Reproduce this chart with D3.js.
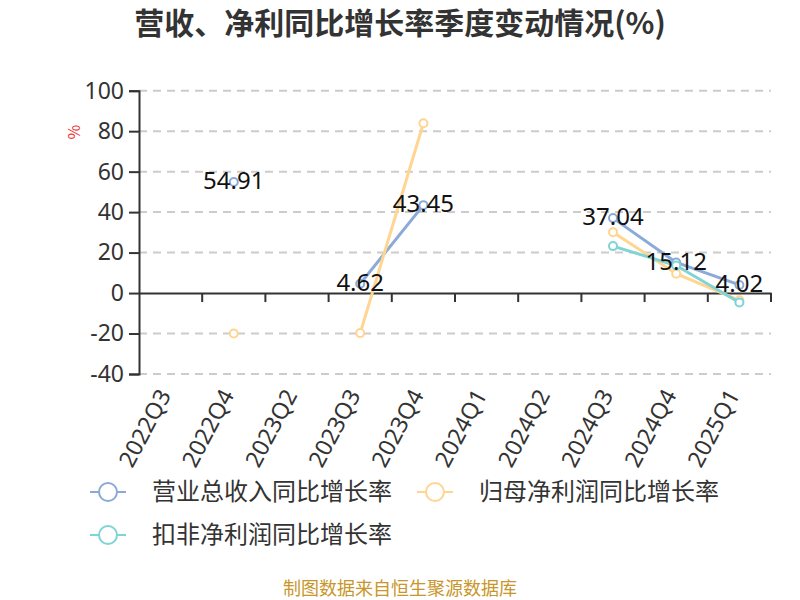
<!DOCTYPE html>
<html><head><meta charset="utf-8">
<script src="https://cdn.jsdelivr.net/npm/d3@7"></script>
<style>body{margin:0;background:#fff;} svg{display:block;font-family:"Noto Sans CJK SC","Noto Sans",sans-serif;}</style>
</head><body>
<svg id="c" width="800" height="600"></svg>
<script>
const categories = ["2022Q3","2022Q4","2023Q2","2023Q3","2023Q4","2024Q1","2024Q2","2024Q3","2024Q4","2025Q1"];
const revenue = [null,54.91,null,4.62,43.45,null,null,37.04,15.12,4.02];
const netProfit = [null,-20,null,-19.8,83.9,null,null,30.1,9.6,-3.6];
const deductedProfit = [null,null,null,null,null,null,null,23.2,13.6,-4.7];
const yTicks = [-40,-20,0,20,40,60,80,100];
const seriesNames = ["营业总收入同比增长率","归母净利润同比增长率","扣非净利润同比增长率"];
const colors = ["#8caad8","#ffd591","#7fd4d6"];

const svg = d3.select("#c");
const pLeft = 139, pRight = 771, pTop = 90.7, pBottom = 374;
const x = d3.scaleBand().domain(categories).range([pLeft,pRight]);
const y = d3.scaleLinear().domain([-40,100]).range([pBottom,pTop]);

svg.append("text").attr("x",400).attr("y",34).attr("text-anchor","middle")
  .attr("font-size",30).attr("font-weight","bold").attr("fill","#333").text("营收、净利同比增长率季度变动情况(%)");

// grid
svg.append("g").selectAll("line").data(yTicks.filter(d=>d!==0)).join("line")
  .attr("x1",pLeft).attr("x2",pRight).attr("y1",d=>y(d)).attr("y2",d=>y(d))
  .attr("stroke","#ccc").attr("stroke-width",2).attr("stroke-dasharray","8,6");

// y axis
const ya = svg.append("g").attr("transform",`translate(${pLeft},0)`)
  .call(d3.axisLeft(y).tickValues(yTicks).tickSize(10).tickPadding(5).tickFormat(d=>String(d)));
ya.select(".domain").attr("stroke","#333").attr("stroke-width",2);
ya.selectAll(".tick line").attr("stroke","#333").attr("stroke-width",2);
ya.selectAll("text").attr("font-size",23).attr("fill","#333").attr("font-family","'Noto Sans',sans-serif");

svg.append("text").attr("transform","translate(80,132) rotate(-90)").attr("text-anchor","middle")
  .attr("font-size",16).attr("fill","#e33").text("%");

// x axis at zero
const xa = svg.append("g").attr("transform",`translate(0,${y(0)})`)
  .call(d3.axisBottom(x).tickSize(0).tickFormat(""));
xa.select(".domain").attr("stroke","#333").attr("stroke-width",2);
svg.append("g").selectAll("line").data(categories).join("line")
  .attr("x1",(d,i)=>pLeft+x.step()*(i+1)).attr("x2",(d,i)=>pLeft+x.step()*(i+1))
  .attr("y1",y(0)).attr("y2",y(0)+9).attr("stroke","#333").attr("stroke-width",2);

// x labels
svg.append("g").selectAll("text").data(categories).join("text")
  .attr("transform",d=>`translate(${x(d)+x.bandwidth()/2+1},${pBottom+21}) rotate(-62)`)
  .attr("text-anchor","end").attr("font-size",23).attr("fill","#333")
  .attr("font-family","'Noto Sans',sans-serif").text(d=>d);

const allSeries = [revenue,netProfit,deductedProfit];
const line = d3.line().defined(d=>d.v!==null).x(d=>x(d.c)+x.bandwidth()/2).y(d=>y(d.v));
allSeries.forEach((s,i)=>{
  const data = categories.map((c,j)=>({c,v:s[j]}));
  svg.append("path").datum(data).attr("d",line).attr("fill","none")
    .attr("stroke",colors[i]).attr("stroke-width",3);
  svg.append("g").selectAll("circle").data(data.filter(d=>d.v!==null)).join("circle")
    .attr("cx",d=>x(d.c)+x.bandwidth()/2).attr("cy",d=>y(d.v)).attr("r",4)
    .attr("fill","#fff").attr("stroke",colors[i]).attr("stroke-width",2);
});
// labels on revenue
svg.append("g").selectAll("text").data(categories.map((c,j)=>({c,v:revenue[j]})).filter(d=>d.v!==null)).join("text")
  .attr("x",d=>x(d.c)+x.bandwidth()/2).attr("y",d=>y(d.v)).attr("dy","0.3em")
  .attr("text-anchor","middle").attr("font-size",24).attr("fill","#111")
  .attr("font-family","'Noto Sans',sans-serif").text(d=>d.v.toFixed(2));

// legend
const legPos = [[90,492],[417,492],[90,535]];
seriesNames.forEach((n,i)=>{
  const [lx,ly] = legPos[i];
  const g = svg.append("g");
  g.append("line").attr("x1",lx).attr("x2",lx+36).attr("y1",ly).attr("y2",ly).attr("stroke",colors[i]).attr("stroke-width",2);
  g.append("circle").attr("cx",lx+18).attr("cy",ly).attr("r",9).attr("fill","#fff").attr("stroke",colors[i]).attr("stroke-width",2);
  g.append("text").attr("x",lx+62).attr("y",ly).attr("dy","0.35em").attr("font-size",24).attr("fill","#333").text(n);
});

svg.append("text").attr("x",400).attr("y",595).attr("text-anchor","middle").attr("font-size",18)
  .attr("fill","#c8962a").text("制图数据来自恒生聚源数据库");
</script>
</body></html>
